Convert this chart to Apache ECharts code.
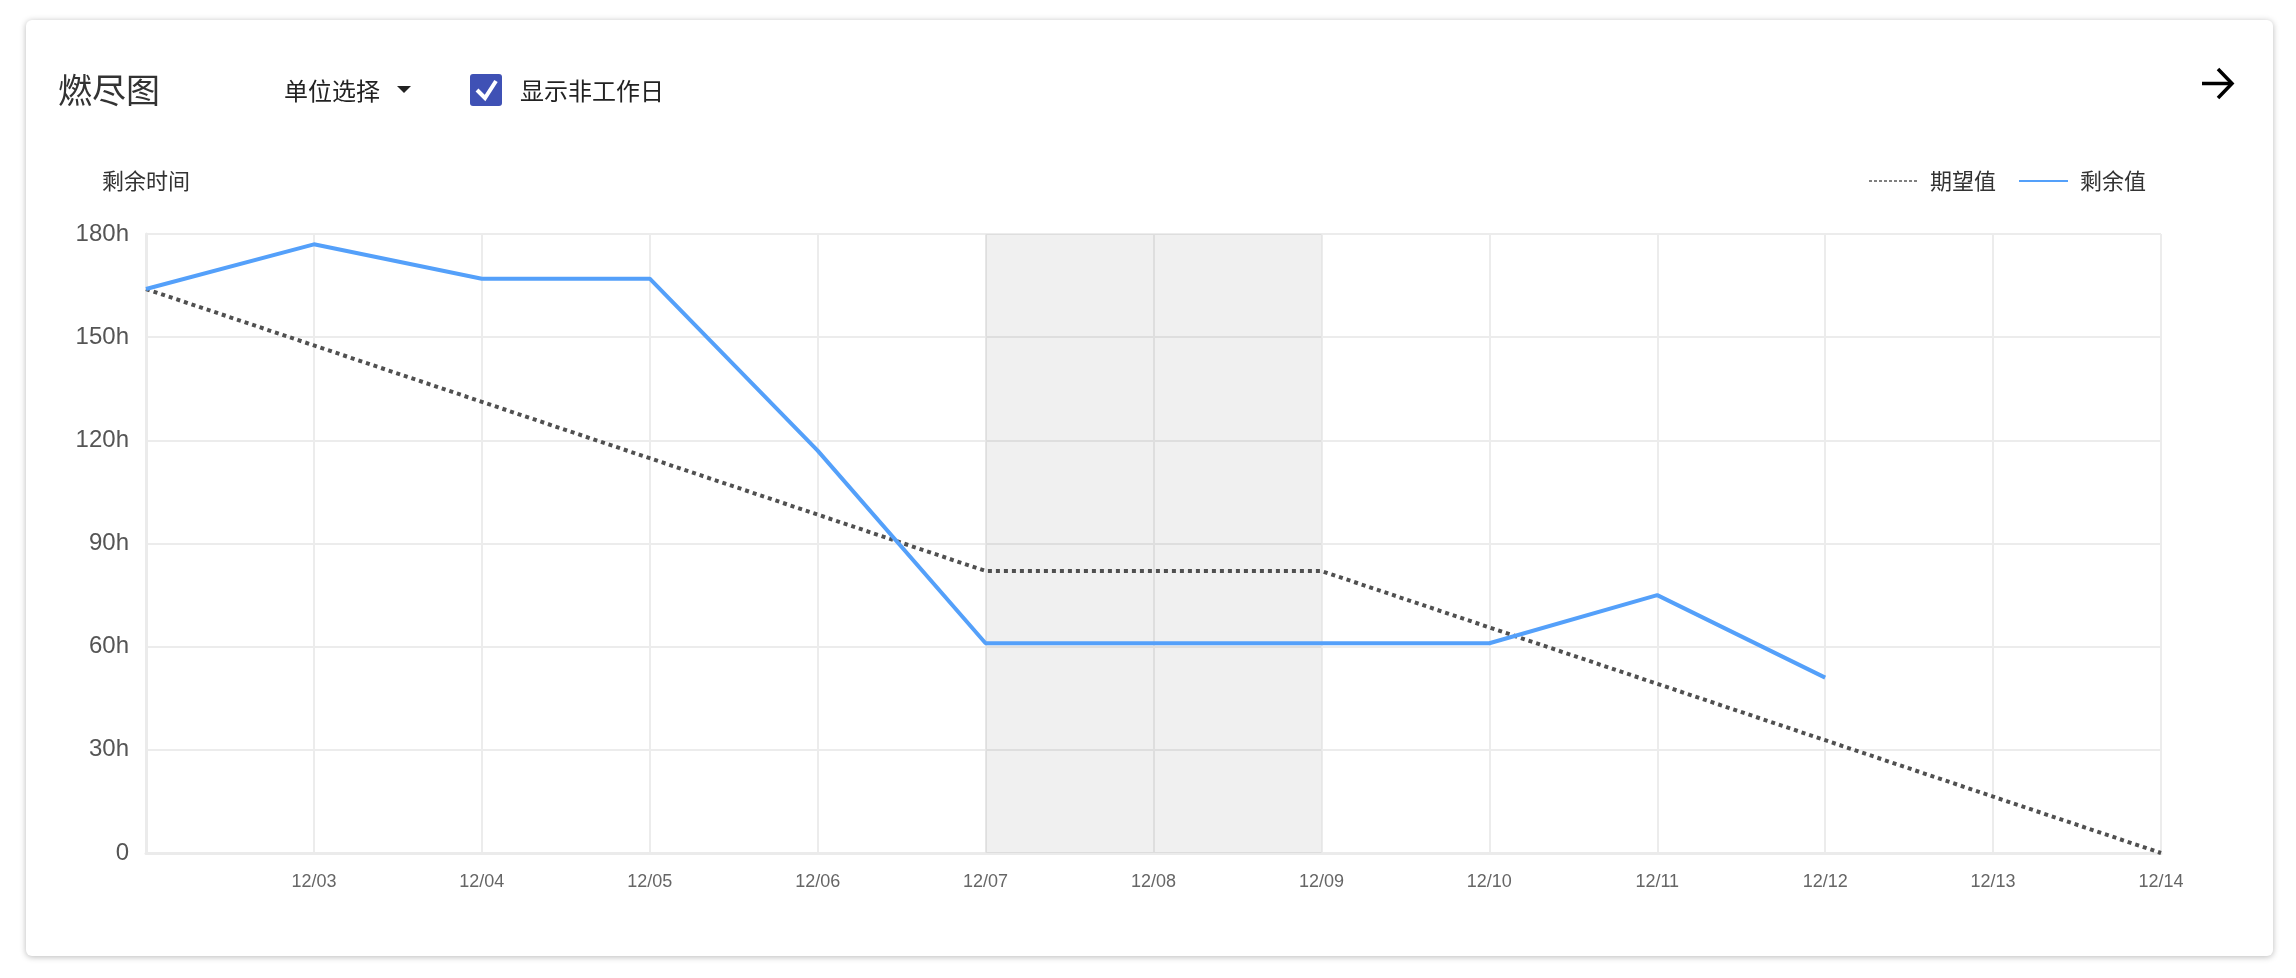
<!DOCTYPE html>
<html>
<head>
<meta charset="utf-8">
<script src="https://cdn.jsdelivr.net/npm/echarts@6/dist/echarts.min.js"></script>
<style>
html,body{margin:0;padding:0;background:#fff;}
#chart{width:2296px;height:978px;}
</style>
</head>
<body>
<div id="chart"></div>
<script>
// ---- data ----
const categories = ['12/02','12/03','12/04','12/05','12/06','12/07','12/08','12/09','12/10','12/11','12/12','12/13','12/14'];
const expectedValues = [164, 147.6, 131.2, 114.8, 98.4, 82, 82, 82, 65.6, 49.2, 32.8, 16.4, 0];
const remainingValues = [164, 177, 167, 167, 117, 61, 61, 61, 61, 75, 51];
const nonWorkdayRange = ['12/07', '12/09'];
const yTicks = { min: 0, max: 180, interval: 30 };
const seriesNames = ['期望值', '剩余值'];
const headerTexts = { title: '燃尽图', unit: '单位选择', toggle: '显示非工作日', yName: '剩余时间' };

const FONT = '"Liberation Sans", "Noto Sans CJK SC", sans-serif';
const CJK = '"Noto Sans CJK SC", "Liberation Sans", sans-serif';

const chart = echarts.init(document.getElementById('chart'), null, { renderer: 'canvas' });
chart.setOption({
  backgroundColor: '#ffffff',
  animation: false,
  textStyle: { fontFamily: FONT },
  graphic: [
    { type: 'rect', z: -10, shape: { x: 26, y: 20, width: 2247, height: 936, r: 6 },
      style: { fill: '#fff', shadowBlur: 6, shadowColor: 'rgba(0,0,0,0.28)', shadowOffsetY: 1 } },
    { type: 'text', x: 58, y: 90, style: { text: headerTexts.title, font: '34px ' + CJK, fill: '#333', verticalAlign: 'middle' }, z: 10 },
    { type: 'text', x: 284, y: 91, style: { text: headerTexts.unit, font: '24px ' + CJK, fill: '#222', verticalAlign: 'middle' }, z: 10 },
    { type: 'polygon', shape: { points: [[397, 86], [411, 86], [404, 93]] }, style: { fill: '#222' }, z: 10 },
    { type: 'rect', shape: { x: 470, y: 74, width: 32, height: 32, r: 3 }, style: { fill: '#3f51b5' }, z: 10 },
    { type: 'polyline', shape: { points: [[477, 90], [485, 98], [496, 81]] }, style: { stroke: '#fff', lineWidth: 4, fill: null }, z: 11 },
    { type: 'text', x: 520, y: 91, style: { text: headerTexts.toggle, font: '24px ' + CJK, fill: '#222', verticalAlign: 'middle' }, z: 10 },
    { type: 'polyline', shape: { points: [[2202, 83.5], [2232, 83.5]] }, style: { stroke: '#000', lineWidth: 3.5, fill: null }, z: 10 },
    { type: 'polyline', shape: { points: [[2218, 69], [2232, 83.5], [2218, 98]] }, style: { stroke: '#000', lineWidth: 3.5, fill: null }, z: 10 }
  ],
  legend: {
    right: 145,
    top: 165,
    itemWidth: 49,
    itemHeight: 14,
    itemGap: 22,
    itemStyle: { opacity: 0 },
    textStyle: { fontSize: 22, color: '#333', fontFamily: CJK, padding: [0, 0, 0, 7] },
    data: [
      { name: seriesNames[0], itemStyle: { opacity: 0 }, lineStyle: { type: [3, 2], width: 1.5, color: '#555' } },
      { name: seriesNames[1], itemStyle: { opacity: 0 }, lineStyle: { width: 2 } }
    ]
  },
  grid: { left: 146, right: 135, top: 234, bottom: 125 },
  xAxis: {
    type: 'category',
    data: categories,
    boundaryGap: false,
    axisLine: { show: true, lineStyle: { color: '#ebebeb', width: 3 } },
    axisTick: { show: false },
    axisLabel: { fontSize: 18, color: '#666', margin: 20, interval: function (i) { return i !== 0; } },
    splitLine: { show: true, lineStyle: { color: '#ececec', width: 2 } }
  },
  yAxis: {
    type: 'value',
    min: yTicks.min, max: yTicks.max, interval: yTicks.interval,
    name: headerTexts.yName,
    nameLocation: 'end',
    nameGap: 42,
    nameTextStyle: { fontSize: 22, color: '#333', fontFamily: CJK, align: 'center' },
    axisLine: { show: true, lineStyle: { color: '#ebebeb', width: 3 } },
    axisTick: { show: false },
    axisLabel: { fontSize: 24, color: '#555', margin: 17, formatter: function (v) { return v === 0 ? '0' : v + 'h'; } },
    splitLine: { show: true, lineStyle: { color: '#ececec', width: 2 } }
  },
  series: [
    {
      name: seriesNames[0],
      type: 'line',
      data: expectedValues,
      symbol: 'none',
      lineStyle: { color: '#505050', width: 4, type: [4, 4] },
      itemStyle: { color: '#505050' },
      z: 3,
      markArea: {
        silent: true,
        itemStyle: { color: 'rgba(0,0,0,0.058)' },
        data: [[{ xAxis: nonWorkdayRange[0] }, { xAxis: nonWorkdayRange[1] }]]
      }
    },
    {
      name: seriesNames[1],
      type: 'line',
      data: remainingValues,
      symbol: 'none',
      lineStyle: { color: '#54a0fa', width: 4 },
      itemStyle: { color: '#54a0fa' },
      z: 4
    }
  ]
});
</script>
</body>
</html>
